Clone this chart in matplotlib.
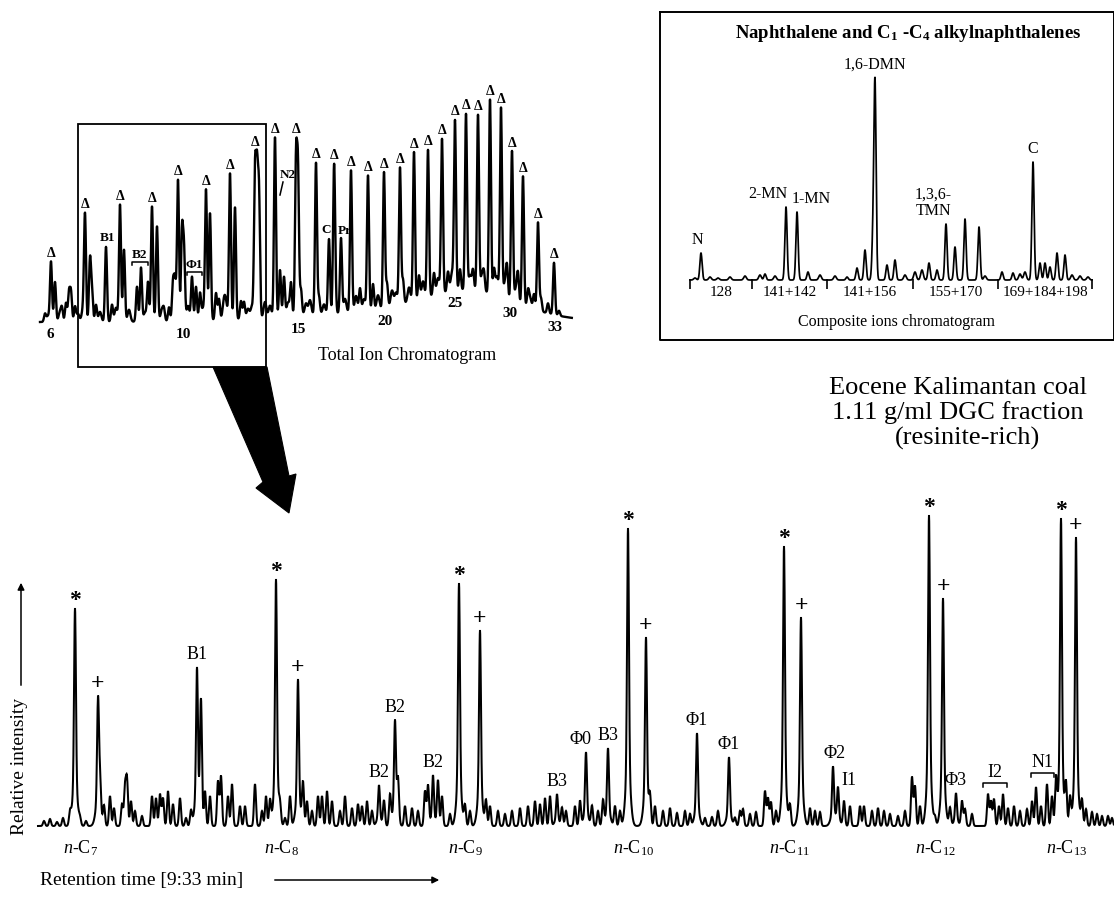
import numpy as np
import matplotlib
matplotlib.use("Agg")
import matplotlib.pyplot as plt
from matplotlib.patches import Polygon, Rectangle

plt.rcParams['font.family'] = ['Liberation Serif', 'DejaVu Serif']
plt.rcParams['mathtext.fontset'] = 'custom'
plt.rcParams['mathtext.rm'] = 'Liberation Serif'
plt.rcParams['mathtext.it'] = 'Liberation Serif:italic'
plt.rcParams['mathtext.bf'] = 'Liberation Serif:bold'

# ---------------- data: main chromatogram (9:33 min window) ----------------
main_peak_x = [75, 98, 197, 276, 298, 379, 395, 433, 459, 480, 557, 586, 608,
               628, 646, 697, 729, 784, 801, 833, 838, 929, 943, 956, 1061, 1076]
main_peak_h = [218, 126, 159, 247, 147, 41, 106, 51, 243, 196, 32, 74, 78,
               298, 189, 93, 69, 280, 209, 59, 38, 311, 228, 33, 308, 289]
main_peak_label = ['*', '+', 'B1', '*', '+', 'B2', 'B2', 'B2', '*', '+', 'B3', 'Φ0', 'B3',
                   '*', '+', 'Φ1', 'Φ1', '*', '+', 'Φ2', 'I1', '*', '+', 'Φ3', '*', '+']
alkane_carbon = [7, 8, 9, 10, 11, 12, 13]

main_minor_x = [44, 50, 57, 63, 70, 80, 86,
                100, 104, 110, 114, 122, 125, 127, 131, 135, 142, 152, 156, 160, 163, 168, 173, 180, 186, 191,
                201, 205, 210, 218, 221, 228, 232, 240, 245, 255, 262, 266, 270, 280, 285, 290, 303, 307, 312,
                318, 322, 327, 332, 340, 345, 352, 358, 362, 367, 372,
                384, 390, 398, 405, 412, 418, 425, 428, 438, 442, 450, 465, 470, 486, 490, 498, 505, 512, 520,
                528, 535, 540, 545, 550, 562, 566, 575, 580, 592, 598, 603, 615, 620,
                650, 655, 663, 670, 677, 685, 690, 705, 712, 718, 735, 740, 743, 750, 756, 765, 768, 771, 776,
                790, 810, 815, 820, 844, 850, 860, 864, 872, 878, 884, 890, 898, 905, 912, 915, 920, 935, 950,
                962, 965, 972, 988, 991, 994, 999, 1003, 1008, 1014, 1020, 1027, 1032, 1036, 1041, 1047, 1052,
                1056, 1066, 1070, 1082, 1086, 1092, 1097, 1102, 1108, 1112]
main_minor_h = [5, 7, 4, 8, 12, 6, 5,
                33, 20, 30, 18, 22, 38, 45, 25, 15, 10, 30, 28, 32, 28, 35, 22, 28, 8, 15,
                120, 35, 30, 45, 50, 30, 42, 20, 20, 42, 15, 30, 25, 15, 8, 30, 42, 25, 15,
                30, 30, 35, 25, 15, 30, 18, 22, 20, 25, 15,
                25, 30, 40, 20, 18, 15, 35, 40, 45, 30, 12, 20, 15, 25, 20, 15, 12, 15, 18,
                20, 25, 22, 28, 30, 18, 15, 20, 25, 20, 15, 25, 20, 15,
                25, 20, 15, 18, 13, 15, 12, 8, 9, 15, 8, 15, 17, 12, 14, 35, 28, 24, 15,
                20, 18, 15, 14, 25, 20, 20, 20, 15, 18, 15, 12, 10, 15, 49, 40, 20, 8, 18,
                25, 17, 12, 32, 25, 27, 20, 32, 18, 20, 15, 17, 25, 39, 20, 42, 30,
                44, 39, 28, 25, 17, 14, 12, 10, 10, 8]
main_bracket_label = ['I2', 'N1']
main_bracket_start = [983, 1031]
main_bracket_end = [1007, 1054]
main_bracket_level = [43, 53]

# ---------------- data: total ion chromatogram ----------------
tic_peak_x = [51, 85, 120, 152, 178, 206, 230, 255, 275, 296, 316, 334, 351, 368,
              384, 400, 414, 428, 442, 455, 466, 478, 490, 501, 512, 523, 538, 554]
tic_peak_h = [60, 105, 117, 115, 141, 130, 146, 141, 180, 151, 152, 133, 142, 135,
              136, 137, 149, 147, 154, 169, 176, 176, 194, 189, 150, 129, 88, 52]
tic_minor_x = [45, 55, 62, 66, 69, 71, 75, 90, 92, 96, 106, 112, 124, 137, 141, 148, 157,
               164, 169, 173, 175, 182, 184, 192, 196, 200, 210, 216, 219, 235, 241, 244,
               257, 259, 280, 284, 291, 298, 301, 319, 329, 335, 341, 360, 373, 387, 403,
               419, 434, 448, 460, 473, 484, 494, 507, 518, 528, 534, 541, 548, 559]
tic_minor_h = [8, 40, 12, 19, 29, 29, 15, 62, 29, 17, 75, 17, 72, 35, 54, 39, 95,
               10, 14, 38, 40, 89, 69, 44, 34, 27, 107, 27, 21, 112, 18, 17,
               133, 120, 47, 40, 33, 140, 26, 18, 75, 27, 75, 23, 26, 24, 24,
               24, 22, 20, 21, 20, 16, 25, 30, 27, 15, 15, 13, 10, 5]
tic_grass_x = [48, 60, 78, 83, 100, 116, 129, 145, 162, 188, 203, 224, 226, 248, 252, 265, 270, 288,
               306, 310, 324, 345, 356, 364, 378, 392, 396, 409, 423, 438, 452, 470, 482, 497, 505, 516, 530]
tic_grass_h = [6, 10, 8, 12, 10, 14, 12, 9, 12, 15, 12, 18, 14, 10, 12, 16, 12, 14,
               12, 15, 10, 14, 16, 12, 14, 16, 13, 15, 17, 16, 18, 15, 17, 19, 16, 14, 10]
tic_hump_x = [470, 400]
tic_hump_h = [24, 10]
tic_hump_w = [45, 100]
tic_tick_x = [50, 183, 298, 385, 455, 510, 555]
tic_tick_label = ['6', '10', '15', '20', '25', '30', '33']

# ---------------- data: naphthalenes composite ion chromatogram ----------------
naph_peak_x = [701, 765, 786, 797, 808, 847, 857, 865, 873, 875, 887, 895, 929,
               937, 946, 955, 965, 979, 1002, 1013, 1033, 1040, 1045, 1050, 1057, 1065]
naph_peak_h = [27, 6, 73, 68, 8, 3, 12, 30, 40, 195, 15, 20, 17,
               10, 56, 33, 61, 53, 8, 7, 118, 17, 17, 13, 27, 25]
naph_minor_x = [695, 710, 718, 730, 745, 760, 775, 820, 835, 905, 915, 922, 985, 1020, 1025, 1072, 1080, 1088]
naph_minor_h = [2, 3, 2, 3, 4, 5, 4, 5, 4, 5, 8, 10, 4, 6, 8, 5, 4, 3]
naph_section = [690, 752, 827, 913, 998, 1092]
naph_ion_label = ['128', '141+142', '141+156', '155+170', '169+184+198']
naph_named = {'N': 701, '2-MN': 786, '1-MN': 797, '1,6-DMN': 875, '1,3,6-\nTMN': 946, 'C': 1033}

assert len(main_minor_x) == len(main_minor_h)
assert len(tic_minor_x) == len(tic_minor_h)
assert len(tic_grass_x) == len(tic_grass_h)

W, H = 1114, 897
fig = plt.figure(figsize=(W / 100, H / 100), dpi=100)
PT = 0.72  # points per pixel


def px_axes(x0, x1, y0, y1):
    ax = fig.add_axes([x0 / W, 1 - y1 / H, (x1 - x0) / W, (y1 - y0) / H])
    ax.set_axis_off()
    ax.patch.set_alpha(0)
    return ax


def gsum(x, centers, heights, width):
    y = np.zeros_like(x)
    for c, h in zip(centers, heights):
        y += h * np.exp(-0.5 * ((x - c) / width) ** 2)
    return y


def top_at(xs, ys, c):
    return ys[np.abs(xs - c) < 1.5].max()


# ======================= main chromatogram =======================
BASE = 826
axm = px_axes(0, W, 470, 897)
axm.set_xlim(0, W)
axm.set_ylim(BASE - 897, BASE - 470)

xs = np.arange(38.0, 1114.0, 0.2)
ph = np.array(main_peak_h, float)
ym = (gsum(xs, main_peak_x, 0.8 * ph, 0.9) + gsum(xs, main_peak_x, 0.2 * ph, 2.4)
      + gsum(xs, main_minor_x, main_minor_h, 1.0))
axm.plot(xs, ym, color='k', lw=1.45, solid_joinstyle='miter')

for x, lab in zip(main_peak_x, main_peak_label):
    top = top_at(xs, ym, x)
    if lab == '*':
        axm.annotate('*', (x, top), xytext=(0, -2), textcoords='offset points',
                     ha='center', va='bottom', fontsize=17, fontweight='bold')
    elif lab == '+':
        axm.annotate('+', (x, top), xytext=(0, 1), textcoords='offset points',
                     ha='center', va='bottom', fontsize=17, fontweight='bold')
    elif lab == 'I1':
        axm.annotate(lab, (x, top), xytext=(3 * PT, -2 * PT), textcoords='offset points',
                     ha='left', va='bottom', fontsize=13)
    else:
        dx = {'Φ0': -5, 'Φ2': 2}.get(lab, 0)
        axm.annotate(lab, (x, top), xytext=(dx * PT, 4 * PT), textcoords='offset points',
                     ha='center', va='bottom', fontsize=13)

star_x = [x for x, l in zip(main_peak_x, main_peak_label) if l == '*']
for x, n in zip(star_x, alkane_carbon):
    axm.text(x + 6, -22, r'$n$-$\mathrm{C}_{%d}$' % n, ha='center', va='center', fontsize=13)

for lab, a, b, lev in zip(main_bracket_label, main_bracket_start, main_bracket_end, main_bracket_level):
    axm.plot([a, a, b, b], [lev - 4, lev, lev, lev - 4], color='k', lw=1.1)
    axm.text((a + b) / 2, lev + 2, lab, ha='center', va='bottom', fontsize=13)

# ======================= total ion chromatogram =======================
TB = 322
axt = px_axes(0, 600, 40, 370)
axt.set_xlim(0, 600)
axt.set_ylim(TB - 370, TB - 40)
xt = np.arange(40.0, 572.0, 0.2)
hump = np.zeros_like(xt)
for c, h, w in zip(tic_hump_x, tic_hump_h, tic_hump_w):
    hump += h * np.exp(-0.5 * ((xt - c) / w) ** 2)
yt = (hump + gsum(xt, tic_peak_x, tic_peak_h, 1.0) + gsum(xt, tic_minor_x, tic_minor_h, 1.0)
      + gsum(xt, tic_grass_x, tic_grass_h, 1.4))
axt.plot(xt, yt, color='k', lw=1.7)
for x in tic_peak_x:
    axt.annotate('Δ', (x, top_at(xt, yt, x)), xytext=(0, 1), textcoords='offset points',
                 ha='center', va='bottom', fontsize=10, fontweight='bold')
for x, lab in zip(tic_tick_x, tic_tick_label):
    yb = np.interp(x, xt, hump)
    axt.text(x, yb - 13, lab, ha='center', va='center', fontsize=11, fontweight='bold')
axt.text(407, TB - 355, 'Total Ion Chromatogram', ha='center', va='center', fontsize=13)
# compound labels in TIC
axt.annotate('B1', (106, top_at(xt, yt, 106)), xytext=(1, 2), textcoords='offset points',
             ha='center', va='bottom', fontsize=9.5, fontweight='bold')
for lab, a, b in [('B2', 132, 148), ('Φ1', 187, 202)]:
    lev = max(top_at(xt, yt, c) for c in np.arange(a, b + 1, 1.0)) + 5
    axt.plot([a, a, b, b], [lev - 3, lev, lev, lev - 3], color='k', lw=1.1)
    axt.text((a + b) / 2, lev + 1, lab, ha='center', va='bottom', fontsize=9.5, fontweight='bold')
axt.text(288, TB - 175, 'N2', ha='center', va='center', fontsize=9.5, fontweight='bold')
axt.plot([283, 280], [TB - 182, TB - 195], color='k', lw=1.1)
axt.annotate('C', (329, top_at(xt, yt, 329)), xytext=(-2, 2), textcoords='offset points',
             ha='center', va='bottom', fontsize=9.5, fontweight='bold')
axt.annotate('Pr', (341, top_at(xt, yt, 341)), xytext=(3, 1), textcoords='offset points',
             ha='center', va='bottom', fontsize=9.5, fontweight='bold')

# ======================= naphthalene inset =======================
NB = 280
axn = px_axes(662, W, 15, 345)
axn.set_xlim(662, W)
axn.set_ylim(NB - 345, NB - 15)
xn = np.arange(naph_section[0], naph_section[-1] + 0.1, 0.2)
yn = gsum(xn, naph_peak_x, naph_peak_h, 1.1) + gsum(xn, naph_minor_x, naph_minor_h, 1.3)
axn.plot(xn, yn, color='k', lw=1.25)
axn.vlines(naph_section, -9, 1, color='k', lw=1.2)
for a, b, lab in zip(naph_section[:-1], naph_section[1:], naph_ion_label):
    axn.text((a + b) / 2, -13, lab, ha='center', va='center', fontsize=11)
lab_dx = {'N': -4, '2-MN': -18, '1-MN': 14, '1,6-DMN': 0, '1,3,6-\nTMN': -13, 'C': 0}
for lab, x in naph_named.items():
    axn.annotate(lab, (x, top_at(xn, yn, x)), xytext=(lab_dx[lab] * PT, 5 * PT),
                 textcoords='offset points', ha='center', va='bottom', fontsize=11.5,
                 linespacing=1.05)
axn.text(897, NB - 322, 'Composite ions chromatogram', ha='center', va='center', fontsize=11.5)
axn.text(908, NB - 33, r'Naphthalene and C$_\mathbf{1}$ -C$_\mathbf{4}$ alkylnaphthalenes',
         ha='center', va='center', fontsize=13.5, fontweight='bold')

# ======================= overlay: frames, arrows, captions =======================
ov = fig.add_axes([0, 0, 1, 1])
ov.set_xlim(0, W)
ov.set_ylim(H, 0)
ov.set_axis_off()
ov.patch.set_alpha(0)
ov.add_patch(Rectangle((78, 124), 188, 243, fill=False, ec='k', lw=1.3))
ov.add_patch(Polygon([(213, 367), (267, 367), (289, 476), (296, 474), (289, 513),
                      (256, 488), (263, 482)], closed=True, fc='k', ec='k', lw=0.8))
ov.plot([660, 660, W, W, 660], [12, 340, 340, 12, 12], color='k', lw=1.4)
ov.text(958, 388, 'Eocene Kalimantan coal', ha='center', va='center', fontsize=19)
ov.text(958, 413, '1.11 g/ml DGC fraction', ha='center', va='center', fontsize=19)
ov.text(968, 438, '(resinite-rich)', ha='center', va='center', fontsize=19)
ov.annotate('', xy=(21, 580), xytext=(21, 688),
            arrowprops=dict(arrowstyle='-|>', color='k', lw=1.1, mutation_scale=10))
ov.text(20, 766, 'Relative intensity', rotation=90, ha='center', va='center', fontsize=14)
ov.text(40, 880, 'Retention time [9:33 min]', ha='left', va='center', fontsize=14)
ov.annotate('', xy=(442, 880), xytext=(272, 880),
            arrowprops=dict(arrowstyle='-|>', color='k', lw=1.1, mutation_scale=10))

fig.savefig('out.png', dpi=100, facecolor='white')
